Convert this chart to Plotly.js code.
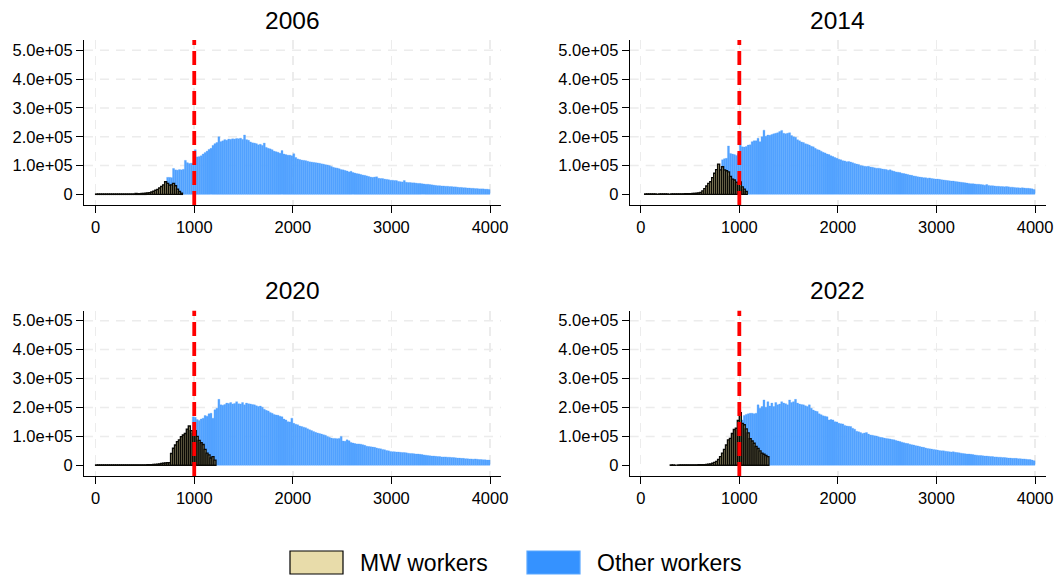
<!DOCTYPE html>
<html>
<head>
<meta charset="utf-8">
<script src="https://cdn.plot.ly/plotly-3.0.1.min.js"></script>
<style>
  html, body { margin: 0; padding: 0; background: #ffffff; }
  #chart { width: 1059px; height: 581px; }
</style>
</head>
<body>
<div id="chart"></div>
<script>
// Monthly wage histograms, 20-unit bins. Counts are in thousands of workers.
const binWidth = 20;
const minimumWage = 1000;
const panelTitles = ['2006', '2014', '2020', '2022'];
const xTickVals = [0, 1000, 2000, 3000, 4000];
const xTickText = ['0', '1000', '2000', '3000', '4000'];
const yTickVals = [0, 100000, 200000, 300000, 400000, 500000];
const yTickText = ['0', '1.0e+05', '2.0e+05', '3.0e+05', '4.0e+05', '5.0e+05'];
const legendLabels = ['MW workers', 'Other workers'];

// ---- 2006 ----
const mwStart2006 = 0;
const mw2006 = [
  1, 1, 1, 1, 1, 1, 1, 1, 1, 1,
  1, 1, 1, 1, 1, 1, 1, 1, 1, 1,
  3, 2, 2, 3, 3, 4, 5, 6, 8, 11,
  14, 17, 22, 27, 33, 44, 38, 32, 33, 38,
  30, 18, 10, 4
];
const otherStart2006 = 720;
const other2006 = [
  59, 59, 58, 90, 85, 84, 86, 85, 87, 118,
  110, 107, 108, 108, 155, 130, 131, 134, 140, 145,
  150, 156, 160, 170, 176, 180, 200, 183, 186, 190,
  188, 192, 191, 193, 192, 194, 193, 195, 191, 206,
  190, 188, 182, 179, 178, 176, 172, 174, 170, 178,
  163, 160, 158, 155, 150, 148, 146, 143, 152, 140,
  138, 136, 136, 134, 141, 128, 123, 121, 119, 118,
  117, 115, 113, 112, 111, 110, 109, 108, 106, 105,
  103, 102, 100, 97, 94, 92, 91, 89, 86, 85,
  83, 81, 78, 80, 76, 74, 72, 71, 69, 67,
  66, 64, 62, 60, 59, 60, 61, 56, 55, 55,
  53, 52, 51, 49, 49, 48, 48, 45, 44, 43,
  48, 42, 41, 41, 40, 40, 39, 38, 38, 37,
  36, 35, 35, 34, 33, 32, 31, 30, 30, 29,
  29, 28, 28, 27, 27, 26, 26, 25, 24, 24,
  23, 23, 22, 22, 21, 21, 20, 20, 19, 19,
  19, 18, 18, 17
];

// ---- 2014 ----
const mwStart2014 = 40;
const mw2014 = [
  1, 1, 1, 1, 1, 1, 0, 1, 1, 1,
  1, 1, 0, 1, 1, 1, 1, 1, 1, 1,
  2, 2, 2, 2, 3, 3, 4, 5, 7, 12,
  20, 29, 38, 44, 58, 73, 86, 105, 85, 96,
  85, 82, 78, 62, 53, 50, 42, 38, 43, 26,
  18, 10
];
const otherStart2014 = 820;
const other2014 = [
  120, 124, 125, 168, 142, 140, 138, 135, 142, 217,
  165, 164, 166, 171, 172, 183, 186, 186, 195, 183,
  200, 223, 202, 206, 205, 208, 210, 212, 214, 218,
  222, 212, 210, 212, 214, 204, 200, 198, 190, 186,
  182, 180, 176, 174, 171, 167, 165, 160, 156, 154,
  150, 146, 144, 140, 138, 134, 131, 128, 125, 122,
  120, 117, 116, 113, 114, 112, 110, 107, 105, 104,
  100, 99, 98, 97, 98, 95, 94, 92, 91, 91,
  90, 88, 87, 86, 84, 85, 82, 80, 78, 77,
  76, 73, 72, 71, 69, 67, 66, 64, 63, 61,
  60, 59, 58, 58, 56, 57, 55, 54, 53, 53,
  52, 51, 50, 49, 48, 47, 46, 46, 45, 44,
  43, 42, 41, 40, 39, 38, 37, 37, 36, 35,
  35, 34, 33, 32, 34, 31, 30, 30, 29, 28,
  28, 27, 27, 26, 27, 26, 25, 25, 24, 23,
  23, 22, 23, 22, 21, 21, 20, 19, 17
];

// ---- 2020 ----
const mwStart2020 = 0;
const mw2020 = [
  1, 1, 1, 1, 1, 1, 1, 1, 1, 1,
  1, 1, 1, 1, 1, 1, 1, 1, 1, 1,
  1, 1, 1, 1, 1, 1, 2, 2, 2, 3,
  3, 4, 5, 6, 7, 8, 9, 9, 41, 59,
  70, 82, 88, 99, 105, 110, 125, 136, 120, 110,
  120, 100, 86, 78, 72, 55, 42, 36, 25, 30,
  18
];
const otherStart2020 = 980;
const other2020 = [
  168, 166, 158, 155, 160, 163, 172, 170, 178, 180,
  163, 192, 197, 228, 209, 208, 210, 215, 214, 217,
  212, 214, 220, 213, 212, 217, 209, 215, 213, 212,
  210, 209, 206, 203, 205, 201, 194, 190, 188, 183,
  180, 176, 174, 173, 170, 168, 160, 157, 151, 150,
  163, 145, 142, 140, 136, 134, 132, 130, 126, 123,
  120, 117, 114, 112, 110, 108, 106, 104, 100, 97,
  94, 93, 93, 92, 93, 100, 84, 83, 88, 85,
  79, 77, 75, 74, 74, 73, 71, 69, 66, 65,
  64, 63, 62, 60, 58, 57, 55, 54, 51, 50,
  48, 47, 47, 46, 46, 45, 44, 44, 43, 42,
  41, 41, 40, 39, 39, 38, 37, 36, 35, 34,
  33, 32, 32, 31, 30, 30, 29, 29, 29, 28,
  28, 27, 27, 26, 25, 25, 24, 24, 23, 23,
  22, 22, 21, 22, 21, 20, 20, 19, 19, 18,
  18
];

// ---- 2022 ----
const mwStart2022 = 300;
const mw2022 = [
  1, 1, 0, 0, 1, 1, 1, 1, 1, 1,
  1, 1, 1, 1, 2, 2, 2, 2, 3, 4,
  5, 7, 10, 13, 20, 30, 42, 55, 70, 88,
  93, 110, 124, 128, 155, 182, 145, 140, 126, 112,
  92, 84, 76, 65, 58, 50, 42, 38, 34, 30
];
const otherStart2022 = 1000;
const other2022 = [
  155, 157, 172, 176, 178, 180, 180, 178, 180, 209,
  197, 203, 226, 201, 220, 205, 215, 203, 217, 209,
  212, 220, 215, 213, 209, 226, 217, 220, 228, 215,
  212, 210, 209, 206, 203, 209, 197, 191, 188, 186,
  178, 175, 171, 170, 168, 157, 158, 157, 151, 150,
  145, 144, 143, 138, 136, 135, 134, 128, 125, 118,
  116, 113, 110, 112, 113, 108, 105, 104, 102, 101,
  99, 97, 96, 94, 93, 92, 91, 89, 88, 86,
  84, 82, 80, 78, 76, 75, 73, 71, 70, 68,
  67, 65, 63, 62, 60, 58, 57, 56, 55, 54,
  53, 51, 50, 50, 49, 48, 47, 46, 47, 45,
  44, 43, 42, 41, 40, 39, 39, 38, 37, 36,
  35, 34, 34, 33, 32, 32, 31, 30, 30, 29,
  29, 28, 28, 27, 27, 26, 25, 25, 24, 24,
  24, 23, 23, 22, 22, 21, 20, 20, 18, 16
];

const panels = [
  { mwStart: mwStart2006, mw: mw2006, otherStart: otherStart2006, other: other2006 },
  { mwStart: mwStart2014, mw: mw2014, otherStart: otherStart2014, other: other2014 },
  { mwStart: mwStart2020, mw: mw2020, otherStart: otherStart2020, other: other2020 },
  { mwStart: mwStart2022, mw: mw2022, otherStart: otherStart2022, other: other2022 }
];

// ---- styling ----
const FONT = 'Liberation Sans, Arial, Helvetica, sans-serif';
const MW_FILL = '#c9bd8c';
const MW_EDGE = '#0a0a06';
const OTHER_FILL = '#52a2ff';
const GRID = '#ececec';
const W = 1059, H = 581;

// plot-area rectangles in pixels: [left, right, top, bottom]
const boxes = [
  [84, 501, 40, 205],
  [629.7, 1046, 40, 205],
  [84, 501, 310.7, 476],
  [629.7, 1046, 310.7, 476]
];
const xRanges = [[-118, 4111], [-112, 4111], [-118, 4111], [-112, 4111]];
const yRanges = [[-37000, 536000], [-37000, 536000], [-37000, 534600], [-37000, 534600]];

const binCenters = (start, n) => Array.from({ length: n }, (_, i) => start + i * binWidth + binWidth / 2);
const toCounts = arr => arr.map(v => v * 1000);

const traces = [];
const layout = {
  width: W, height: H,
  margin: { l: 0, r: 0, t: 0, b: 0 },
  paper_bgcolor: '#ffffff',
  plot_bgcolor: '#ffffff',
  barmode: 'overlay',
  bargap: 0,
  showlegend: false,
  font: { family: FONT, color: '#000000' },
  shapes: [],
  annotations: []
};

panels.forEach((p, k) => {
  const sfx = k === 0 ? '' : String(k + 1);
  const xa = 'x' + sfx, ya = 'y' + sfx;
  const [l, r, t, b] = boxes[k];

  traces.push({
    type: 'bar', xaxis: xa, yaxis: ya,
    x: binCenters(p.otherStart, p.other.length),
    y: toCounts(p.other),
    width: binWidth,
    marker: { color: OTHER_FILL, line: { color: OTHER_FILL, width: 0.3 } },
    name: legendLabels[1], hoverinfo: 'skip'
  });
  traces.push({
    type: 'bar', xaxis: xa, yaxis: ya,
    x: binCenters(p.mwStart, p.mw.length),
    y: toCounts(p.mw),
    width: binWidth,
    marker: { color: MW_FILL, line: { color: MW_EDGE, width: 1.4 } },
    name: legendLabels[0], hoverinfo: 'skip'
  });

  layout['xaxis' + sfx] = {
    domain: [l / W, r / W], range: xRanges[k], anchor: ya,
    tickmode: 'array', tickvals: xTickVals, ticktext: xTickText,
    ticks: 'outside', ticklen: 7, tickwidth: 1, tickcolor: '#000',
    showline: true, linecolor: '#000', linewidth: 1,
    showgrid: true, gridcolor: GRID, gridwidth: 1.5, griddash: '9px,7px',
    zeroline: false, fixedrange: true,
    tickfont: { family: FONT, size: 16.5, color: '#000' }
  };
  layout['yaxis' + sfx] = {
    domain: [1 - b / H, 1 - t / H], range: yRanges[k], anchor: xa,
    tickmode: 'array', tickvals: yTickVals, ticktext: yTickText,
    ticks: 'outside', ticklen: 7, tickwidth: 1, tickcolor: '#000',
    showline: true, linecolor: '#000', linewidth: 1,
    showgrid: false, zeroline: false, fixedrange: true,
    tickfont: { family: FONT, size: 16.5, color: '#000' }
  };

  // horizontal grid (non-zero ticks only)
  yTickVals.filter(v => v > 0).forEach(v => {
    layout.shapes.push({
      type: 'line', xref: xa + ' domain', yref: ya, x0: 0, x1: 1, y0: v, y1: v,
      layer: 'below', line: { color: GRID, width: 1.5, dash: '9px,7px' }
    });
  });

  // minimum wage reference line
  layout.shapes.push({
    type: 'line', xref: xa, yref: ya + ' domain', x0: minimumWage, x1: minimumWage, y0: 0, y1: 1,
    layer: 'above', line: { color: '#ff0000', width: 3.8, dash: '14px,6px' }
  });

  layout.annotations.push({
    text: panelTitles[k], xref: 'paper', yref: 'paper',
    x: ((l + r) / 2) / W, y: 1 - (t - 20) / H, xanchor: 'center', yanchor: 'middle',
    showarrow: false, font: { family: FONT, size: 24.5, color: '#000' }
  });
});

// legend drawn as patches with labels
const legendItems = [
  { x0: 290, x1: 343, fill: '#e8dcaa', edge: '#000000', tx: 358, label: legendLabels[0] },
  { x0: 527, x1: 580, fill: '#3592ff', edge: '#5aa7ff', tx: 595, label: legendLabels[1] }
];
legendItems.forEach(it => {
  layout.shapes.push({
    type: 'rect', xref: 'paper', yref: 'paper',
    x0: it.x0 / W, x1: it.x1 / W, y0: 1 - 574 / H, y1: 1 - 551 / H,
    fillcolor: it.fill, line: { color: it.edge, width: 1.2 }
  });
  layout.annotations.push({
    text: it.label, xref: 'paper', yref: 'paper',
    x: it.tx / W, y: 1 - 563 / H, xanchor: 'left', yanchor: 'middle',
    showarrow: false, font: { family: FONT, size: 23, color: '#000' }
  });
});

Plotly.newPlot('chart', traces, layout, { displayModeBar: false, staticPlot: true });
</script>
</body>
</html>
